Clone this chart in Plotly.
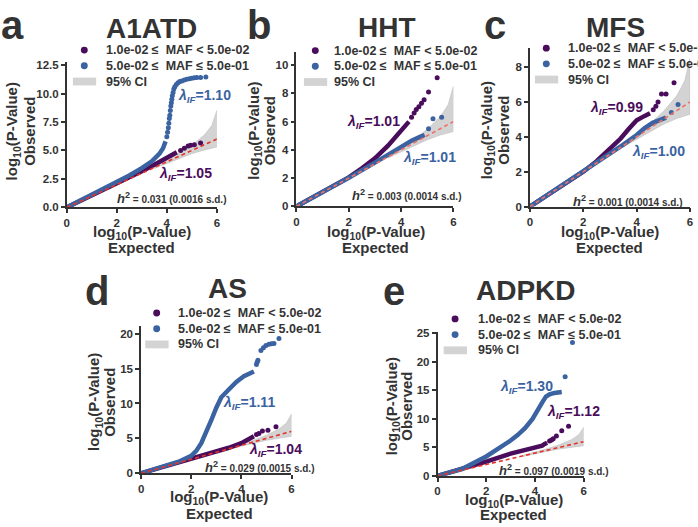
"""
QQ plots (five panels) of observed vs expected log10 P-values, split by MAF bin.
"""

import plotly.graph_objects as go

W, H = 698, 527
FONT = "Liberation Sans, Arial, sans-serif"
PURPLE = "#4a0d5b"
BLUE = "#3b63a1"
TXT = "#333333"
BAND = "#d3d3d3"

# ─── DATA ────────────────────────────────────────────────────────────────────

diag = [0, 6]
ci_x = [3.5, 4.0, 4.5, 5.0, 5.5, 5.8, 6.0]
ci_upper = [3.6, 4.15, 4.75, 5.45, 6.35, 7.2, 8.5]
ci_lower = [3.42, 3.88, 4.3, 4.72, 5.05, 5.2, 5.3]

x_ticks = [0, 2, 4, 6]

# a - A1ATD
a_yticks = [0, 2.5, 5, 7.5, 10, 12.5]
a_yticktext = ["0.0", "2.5", "5.0", "7.5", "10.0", "12.5"]
a_pur_x = [0, 1, 2, 3, 3.5, 4.0, 4.4]
a_pur_y = [0, 1.03, 2.08, 3.17, 3.75, 4.4, 4.85]
a_pur_tail_x = [4.55, 4.7, 4.85, 4.95, 5.1, 5.35]
a_pur_tail_y = [5.0, 5.2, 5.4, 5.45, 5.5, 5.65]
a_blu_x = [0, 1, 2, 2.5, 3, 3.4, 3.7, 3.85, 3.95]
a_blu_y = [0, 1.08, 2.2, 2.8, 3.45, 4.05, 4.7, 5.2, 5.8]
a_blu_tail_x = [4.0, 4.03, 4.06, 4.08, 4.1, 4.12, 4.14, 4.16, 4.18, 4.2, 4.22, 4.25,
                4.28, 4.32, 4.38, 4.45, 4.52, 4.6, 4.7, 4.8, 4.9, 5.0, 5.1, 5.2, 5.35, 5.56]
a_blu_tail_y = [6.2, 6.6, 7.0, 7.4, 7.8, 8.1, 8.5, 8.9, 9.2, 9.5, 9.8, 10.1,
                10.4, 10.6, 10.8, 10.95, 11.05, 11.1, 11.2, 11.25, 11.3, 11.35, 11.38, 11.4, 11.42, 11.45]

# b - HHT
b_yticks = [0, 2, 4, 6, 8, 10]
b_pur_x = [0, 1, 2, 2.5, 3, 3.5, 3.8, 4.1, 4.3]
b_pur_y = [0, 1.0, 2.05, 2.7, 3.4, 4.3, 4.95, 5.6, 6.0]
b_pur_tail_x = [4.4, 4.5, 4.58, 4.68, 4.78, 4.88, 5.05, 5.38]
b_pur_tail_y = [6.3, 6.6, 6.85, 7.05, 7.3, 7.55, 8.1, 9.1]
b_blu_x = [0, 1, 2, 3, 3.5, 4, 4.4, 4.7, 4.9]
b_blu_y = [0, 1.0, 2.02, 3.1, 3.65, 4.25, 4.65, 4.9, 5.05]
b_blu_tail_x = [5.05, 5.22, 5.55]
b_blu_tail_y = [5.5, 6.2, 6.3]

# c - MFS
c_yticks = [0, 2, 4, 6, 8]
c_pur_x = [0, 1, 2, 2.5, 3, 3.4, 3.7, 4.0, 4.3, 4.5]
c_pur_y = [0, 1.0, 2.0, 2.6, 3.3, 3.9, 4.45, 4.95, 5.2, 5.35]
c_pur_tail_x = [4.62, 4.72, 4.8, 4.93, 5.1, 5.4]
c_pur_tail_y = [5.55, 5.75, 6.0, 6.45, 6.45, 7.1]
c_blu_x = [0, 1, 2, 3, 3.5, 4, 4.3, 4.6, 4.9, 5.1]
c_blu_y = [0, 1.0, 2.0, 3.05, 3.55, 4.1, 4.5, 4.8, 5.0, 5.1]
c_blu_tail_x = [5.3, 5.55]
c_blu_tail_y = [5.4, 5.85]

# d - AS
d_yticks = [0, 5, 10, 15, 20]
d_pur_x = [0, 1, 2, 3, 3.5, 4, 4.3, 4.5]
d_pur_y = [0, 1.02, 2.05, 3.1, 3.65, 4.3, 4.8, 5.3]
d_pur_tail_x = [4.6, 4.7, 4.84, 5.06, 5.38]
d_pur_tail_y = [5.55, 5.7, 6.05, 6.15, 6.65]
d_blu_x = [0, 1, 1.5, 2.0, 2.2, 2.4, 2.6, 2.8, 3.0, 3.2, 3.5, 3.8, 4.1, 4.3, 4.5]
d_blu_y = [0, 1.05, 1.65, 2.5, 3.2, 4.3, 5.8, 7.6, 9.4, 10.9, 12.0, 13.1, 13.9, 14.3, 14.6]
d_blu_tail_x = [4.6, 4.63, 4.66, 4.78, 4.88, 4.98, 5.1, 5.2, 5.3, 5.5]
d_blu_tail_y = [15.6, 15.9, 16.2, 17.6, 18.0, 18.3, 18.5, 18.55, 18.6, 19.3]

# e - ADPKD
e_yticks = [0, 5, 10, 15, 20, 25]
e_pur_x = [0, 1, 2, 3, 3.5, 4.0, 4.2, 4.3, 4.4, 4.5]
e_pur_y = [0, 1.2, 2.5, 3.9, 4.4, 4.85, 5.0, 5.3, 5.6, 5.8]
e_pur_tail_x = [4.6, 4.68, 4.75, 4.88, 5.1, 5.38]
e_pur_tail_y = [6.1, 6.3, 6.5, 7.0, 7.9, 8.7]
e_blu_x = [0, 1, 2, 2.6, 3.0, 3.3, 3.6, 3.9, 4.1, 4.3, 4.45, 4.6, 4.8, 5.1]
e_blu_y = [0, 1.2, 3.4, 5.0, 6.2, 7.2, 8.4, 10.0, 11.6, 12.9, 13.9, 14.3, 14.55, 14.7]
e_blu_tail_x = [5.24, 5.54]
e_blu_tail_y = [17.4, 23.4]

# ─── PANEL LAYOUT (pixel positions in the 698x527 canvas) ────────────────────

PANELS = [
    dict(letter="a", title="A1ATD", xpx=(64.3, 215.7), ypx=(207.3, 58.8), ymax=12.8,
         yticks=a_yticks, yticktext=a_yticktext, red="#e5332a",
         data=(a_pur_x, a_pur_y, a_pur_tail_x, a_pur_tail_y,
               a_blu_x, a_blu_y, a_blu_tail_x, a_blu_tail_y),
         lam=[("1.10", BLUE, 203, 94), ("1.05", PURPLE, 184, 173)],
         h2=("0.031", "0.0016", 170, 198),
         letter_pos=(10, 35), title_pos=(150, 35),
         xt=(140, 232.5, 248.5), yt=(10, 26.5, 130),
         leg=(82, 47, 102)),
    dict(letter="b", title="HHT", xpx=(296, 454.3), ypx=(206.3, 49.3), ymax=10.9,
         yticks=b_yticks, yticktext=[str(v) for v in b_yticks], red="#f07068",
         data=(b_pur_x, b_pur_y, b_pur_tail_x, b_pur_tail_y,
               b_blu_x, b_blu_y, b_blu_tail_x, b_blu_tail_y),
         lam=[("1.01", PURPLE, 374, 120), ("1.01", BLUE, 430, 157)],
         h2=("0.003", "0.0014", 407, 195),
         letter_pos=(258.5, 35), title_pos=(387, 34),
         xt=(376, 232.5, 248.5), yt=(253.5, 269, 129),
         leg=(315, 47.5, 332)),
    dict(letter="c", title="MFS", xpx=(531.5, 693), ypx=(206.5, 44.7), ymax=9.1,
         yticks=c_yticks, yticktext=[str(v) for v in c_yticks], red="#f07068",
         data=(c_pur_x, c_pur_y, c_pur_tail_x, c_pur_tail_y,
               c_blu_x, c_blu_y, c_blu_tail_x, c_blu_tail_y),
         lam=[("0.99", PURPLE, 619, 106), ("1.00", BLUE, 661, 151)],
         h2=("0.001", "0.0014", 630, 201),
         letter_pos=(496.5, 35), title_pos=(618, 34),
         xt=(612, 232.5, 248.5), yt=(489, 504.5, 129),
         leg=(548, 45, 568)),
    dict(letter="d", title="AS", xpx=(139.3, 291), ypx=(478.3, 328.3), ymax=21.1,
         yticks=d_yticks, yticktext=[str(v) for v in d_yticks], red="#e5332a",
         data=(d_pur_x, d_pur_y, d_pur_tail_x, d_pur_tail_y,
               d_blu_x, d_blu_y, d_blu_tail_x, d_blu_tail_y),
         lam=[("1.11", BLUE, 248, 407), ("1.04", PURPLE, 275, 455)],
         h2=("0.029", "0.0015", 259, 472),
         letter_pos=(95, 307), title_pos=(226, 300),
         xt=(218, 503, 519), yt=(92.5, 107.5, 406),
         leg=(155, 315, 175)),
    dict(letter="e", title="ADPKD", xpx=(438.3, 585.7), ypx=(481, 334), ymax=25.3,
         yticks=e_yticks, yticktext=[str(v) for v in e_yticks], red="#e5332a",
         data=(e_pur_x, e_pur_y, e_pur_tail_x, e_pur_tail_y,
               e_blu_x, e_blu_y, e_blu_tail_x, e_blu_tail_y),
         lam=[("1.30", BLUE, 528, 390), ("1.12", PURPLE, 575, 416)],
         h2=("0.097", "0.0019", 555, 475),
         letter_pos=(394, 307), title_pos=(528, 302),
         xt=(515, 506, 520.5), yt=(392.5, 407, 410),
         leg=(456, 321, 477)),
]


def fx(px):
    return px / W


def fy(py):
    return 1 - py / H


def label(text, x, y, size, color=TXT, xanchor="center", angle=0):
    """Annotation placed in canvas pixels."""
    return dict(text=text, x=fx(x), y=fy(y), xref="paper", yref="paper",
                showarrow=False, xanchor=xanchor, yanchor="middle", textangle=angle,
                font=dict(family=FONT, size=size, color=color))


fig = go.Figure()
annotations = []
shapes = []
layout_axes = {}

for i, p in enumerate(PANELS, start=1):
    xa, ya = f"x{i}", f"y{i}"
    pur_x, pur_y, pur_tx, pur_ty, blu_x, blu_y, blu_tx, blu_ty = p["data"]

    # 95% CI band
    fig.add_trace(go.Scatter(
        x=ci_x + ci_x[::-1], y=ci_upper + ci_lower[::-1],
        fill="toself", fillcolor=BAND, line=dict(width=0.6, color="#bdbdbd"),
        mode="lines", xaxis=xa, yaxis=ya, showlegend=False, hoverinfo="skip"))

    # dense parts of the QQ curves, then sparse tails
    for cx, cy, tx, ty, col in [(pur_x, pur_y, pur_tx, pur_ty, PURPLE),
                                (blu_x, blu_y, blu_tx, blu_ty, BLUE)]:
        fig.add_trace(go.Scatter(
            x=cx, y=cy, mode="lines", line=dict(color=col, width=4.5),
            xaxis=xa, yaxis=ya, showlegend=False))
        fig.add_trace(go.Scatter(
            x=tx, y=ty, mode="markers", marker=dict(color=col, size=5),
            xaxis=xa, yaxis=ya, showlegend=False))

    # expected line
    fig.add_trace(go.Scatter(
        x=diag, y=diag, mode="lines",
        line=dict(color=p["red"], width=1.6, dash="4px,3px"),
        xaxis=xa, yaxis=ya, showlegend=False, hoverinfo="skip"))

    axis_common = dict(
        showline=True, linecolor=TXT, linewidth=1.6, ticks="outside", ticklen=4,
        tickwidth=1.5, tickcolor=TXT, showgrid=False, zeroline=False,
        tickfont=dict(family=FONT, size=11.5, color=TXT, weight="bold"),
    )
    layout_axes[f"xaxis{i}"] = dict(
        axis_common, domain=[fx(p["xpx"][0]), fx(p["xpx"][1])], range=[0, 6],
        tickvals=x_ticks, anchor=ya)
    layout_axes[f"yaxis{i}"] = dict(
        axis_common, domain=[fy(p["ypx"][0]), fy(p["ypx"][1])], range=[0, p["ymax"]],
        tickvals=p["yticks"], ticktext=p["yticktext"], anchor=xa)

    # panel letter and title
    lx, ly = p["letter_pos"]
    annotations.append(label(f"<b>{p['letter']}</b>", lx, ly - 14, 40))
    tx_, ty_ = p["title_pos"]
    annotations.append(label(f"<b>{p['title']}</b>", tx_, ty_ - 10, 28))

    # axis titles (one annotation per line)
    xc, xl1, xl2 = p["xt"]
    annotations.append(label("<b>log<sub>10</sub>(P-Value)</b>", xc, xl1, 15))
    annotations.append(label("<b>Expected</b>", xc, xl2, 15))
    yl1, yl2, yc = p["yt"]
    annotations.append(label("<b>log<sub>10</sub>(P-Value)</b>", yl1, yc, 15, angle=-90))
    annotations.append(label("<b>Observed</b>", yl2, yc, 15, angle=-90))

    # lambda labels
    for val, col, cx_, cy_ in p["lam"]:
        annotations.append(label(f"<b><i>λ</i><sub><i>IF</i></sub>={val}</b>",
                                 cx_, cy_, 14, color=col))

    # heritability label
    h_val, h_sd, hx, hy = p["h2"]
    annotations.append(label(
        f"<span style='font-size:13px'><b><i>h</i><sup>2</sup></b></span>"
        f"<b> = {h_val} ({h_sd} s.d.)</b>", hx, hy, 10))

    # legend drawn by hand
    mx, my, txl = p["leg"]
    for k, (col, lab) in enumerate([
            (PURPLE, "1.0e-02 ≤\u00a0 MAF < 5.0e-02"),
            (BLUE, "5.0e-02 ≤\u00a0 MAF ≤ 5.0e-01")]):
        cy_ = my + 16 * k
        shapes.append(dict(
            type="circle", xref="paper", yref="paper",
            x0=fx(mx - 3.5), x1=fx(mx + 3.5), y0=fy(cy_ + 3.5), y1=fy(cy_ - 3.5),
            fillcolor=col, line=dict(width=0)))
        annotations.append(label(f"<b>{lab}</b>", txl, cy_, 12.5, xanchor="left"))
    cy_ = my + 32
    shapes.append(dict(
        type="rect", xref="paper", yref="paper",
        x0=fx(mx - 11.5), x1=fx(mx + 12), y0=fy(cy_ + 4), y1=fy(cy_ - 4),
        fillcolor=BAND, line=dict(width=0)))
    annotations.append(label("<b>95% CI</b>", txl, cy_, 12.5, xanchor="left"))

fig.update_layout(
    **layout_axes,
    width=W, height=H,
    margin=dict(l=0, r=0, t=0, b=0),
    paper_bgcolor="white", plot_bgcolor="white",
    font=dict(family=FONT, color=TXT),
    showlegend=False,
    annotations=annotations,
    shapes=shapes,
)

# the page body has a default 8px margin; drop it so the canvas starts at (0, 0)
fig.write_html("out.html", config={"displayModeBar": False},
               post_script="document.body.style.margin='0';")
